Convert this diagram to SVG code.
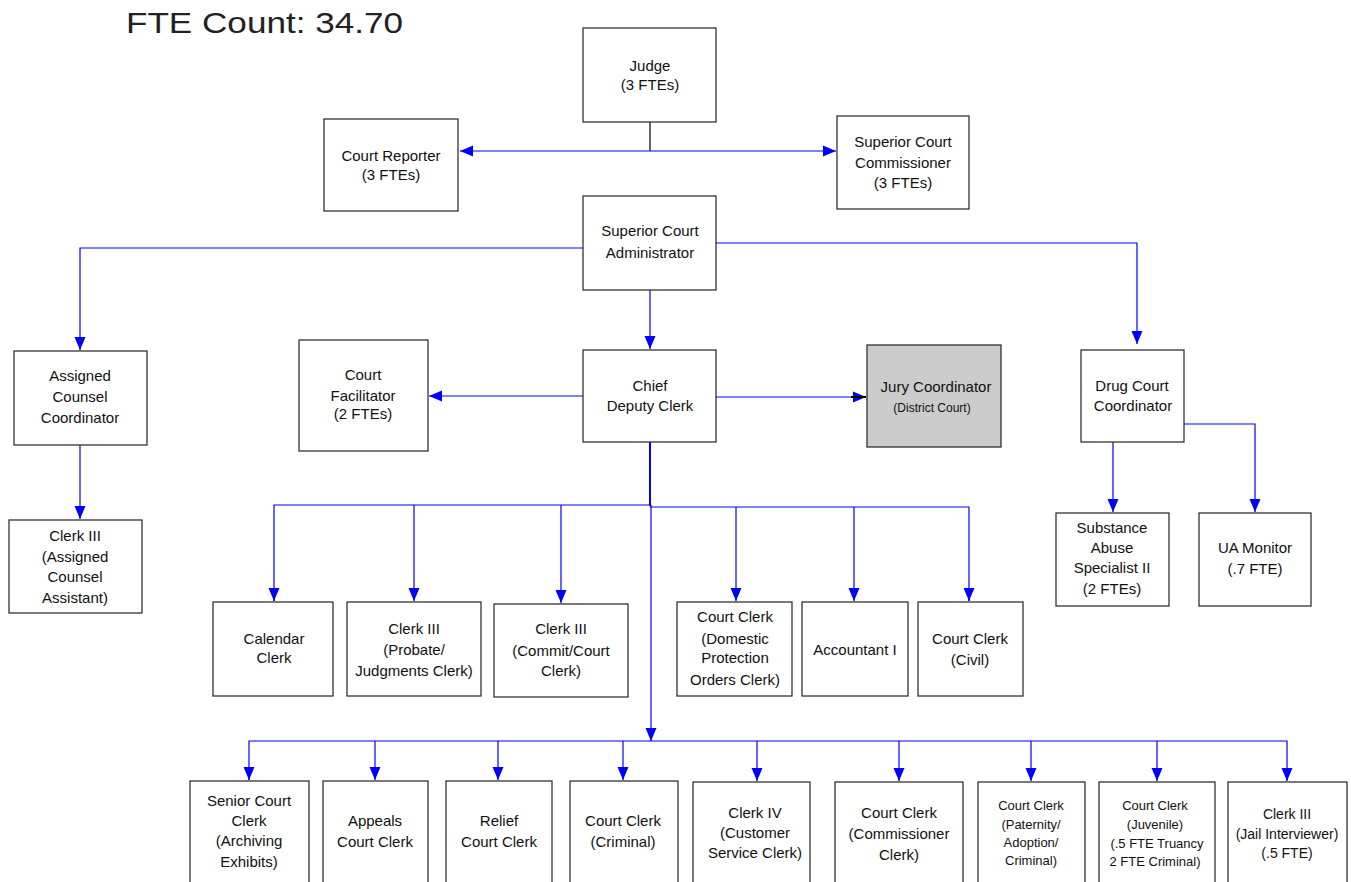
<svg xmlns="http://www.w3.org/2000/svg" width="1351" height="882" viewBox="0 0 1351 882">
<defs>
<style>
.box{fill:#fff;stroke:#222;stroke-width:1.2}
.gray{fill:#cccccc}
text{font-family:"Liberation Sans",Arial,sans-serif;font-size:15px;fill:#111;text-anchor:middle}
.sm{font-size:12px}
.s13{font-size:13px}
.s14{font-size:14px}
.c{fill:none;stroke:#0000ff;stroke-width:1.2}
.k{fill:none;stroke:#000;stroke-width:1.2}
</style>
<marker id="ah" markerUnits="userSpaceOnUse" markerWidth="14" markerHeight="12" refX="13" refY="6" orient="auto-start-reverse">
<path d="M0,0.5 L13,6 L0,11.5 z" fill="#0000ff"/>
</marker>
</defs>
<rect width="1351" height="882" fill="#fff"/>
<text x="126" y="33" style="font-size:30px;text-anchor:start;fill:#222" textLength="277" lengthAdjust="spacingAndGlyphs">FTE Count: 34.70</text>

<g id="connectors">
<line class="k" x1="650" y1="122" x2="650" y2="151"/>
<line class="c" x1="460" y1="151" x2="836" y2="151" marker-start="url(#ah)" marker-end="url(#ah)"/>
<polyline class="c" points="583,248 80,248 80,350" marker-end="url(#ah)"/>
<polyline class="c" points="716,243 1137,243 1137,344" marker-end="url(#ah)"/>
<line class="c" x1="650" y1="290" x2="650" y2="349" marker-end="url(#ah)"/>
<line class="c" x1="80" y1="445" x2="80" y2="519" marker-end="url(#ah)"/>
<line class="c" x1="583" y1="396" x2="429" y2="396" marker-end="url(#ah)"/>
<line class="c" x1="716" y1="397" x2="866" y2="397" marker-end="url(#ah)"/>
<line class="k" x1="851" y1="397" x2="866" y2="397" style="stroke-width:2"/>
<line class="c" x1="1113" y1="442" x2="1113" y2="512" marker-end="url(#ah)"/>
<polyline class="c" points="1184,424 1255,424 1255,512" marker-end="url(#ah)"/>
<line class="c" x1="650" y1="442" x2="650" y2="506" style="stroke-width:2"/>
<polyline class="c" points="274,601 274,505 650,505"/>
<polyline class="c" points="650,507 969,507 969,601"/>
<line class="c" x1="414" y1="505" x2="414" y2="601" marker-end="url(#ah)"/>
<line class="c" x1="561" y1="505" x2="561" y2="603" marker-end="url(#ah)"/>
<line class="c" x1="736" y1="507" x2="736" y2="601" marker-end="url(#ah)"/>
<line class="c" x1="854" y1="507" x2="854" y2="601" marker-end="url(#ah)"/>
<line class="c" x1="274" y1="590" x2="274" y2="601" marker-end="url(#ah)"/>
<line class="c" x1="969" y1="590" x2="969" y2="601" marker-end="url(#ah)"/>
<line class="c" x1="651" y1="505" x2="651" y2="741" marker-end="url(#ah)"/>
<polyline class="c" points="249,780 249,741 1287,741 1287,780"/>
<line class="c" x1="249" y1="770" x2="249" y2="780" marker-end="url(#ah)"/>
<line class="c" x1="1287" y1="770" x2="1287" y2="781" marker-end="url(#ah)"/>
<line class="c" x1="375" y1="741" x2="375" y2="780" marker-end="url(#ah)"/>
<line class="c" x1="498" y1="741" x2="498" y2="780" marker-end="url(#ah)"/>
<line class="c" x1="623" y1="741" x2="623" y2="780" marker-end="url(#ah)"/>
<line class="c" x1="757" y1="741" x2="757" y2="781" marker-end="url(#ah)"/>
<line class="c" x1="899" y1="741" x2="899" y2="781" marker-end="url(#ah)"/>
<line class="c" x1="1031" y1="741" x2="1031" y2="781" marker-end="url(#ah)"/>
<line class="c" x1="1157" y1="741" x2="1157" y2="781" marker-end="url(#ah)"/>
</g>

<g id="judge"><rect class="box" x="583" y="28" width="133" height="94"/><text x="650" y="71">Judge</text><text x="650" y="90">(3 FTEs)</text></g>
<g id="court-reporter"><rect class="box" x="324" y="119" width="134" height="92"/><text x="391" y="161">Court Reporter</text><text x="391" y="180">(3 FTEs)</text></g>
<g id="commissioner"><rect class="box" x="837" y="116" width="132" height="93"/><text x="903" y="147">Superior Court</text><text x="903" y="168">Commissioner</text><text x="903" y="188">(3 FTEs)</text></g>
<g id="administrator"><rect class="box" x="583" y="196" width="133" height="94"/><text x="650" y="236">Superior Court</text><text x="650" y="258">Administrator</text></g>
<g id="assigned-counsel"><rect class="box" x="14" y="351" width="133" height="94"/><text x="80" y="381">Assigned</text><text x="80" y="402">Counsel</text><text x="80" y="423">Coordinator</text></g>
<g id="clerk3-assigned"><rect class="box" x="9" y="520" width="133" height="93"/><text x="75" y="541">Clerk III</text><text x="75" y="562">(Assigned</text><text x="75" y="582">Counsel</text><text x="75" y="603">Assistant)</text></g>
<g id="facilitator"><rect class="box" x="299" y="340" width="129" height="111"/><text x="363" y="380">Court</text><text x="363" y="401">Facilitator</text><text x="363" y="419">(2 FTEs)</text></g>
<g id="chief-deputy"><rect class="box" x="583" y="350" width="133" height="92"/><text x="650" y="391">Chief</text><text x="650" y="411">Deputy Clerk</text></g>
<g id="jury"><rect class="box gray" x="867" y="345" width="134" height="102"/><text x="936" y="392">Jury Coordinator</text><text class="sm" x="932" y="412">(District Court)</text></g>
<g id="drug-court"><rect class="box" x="1081" y="350" width="103" height="92"/><text x="1132" y="391">Drug Court</text><text x="1133" y="411">Coordinator</text></g>
<g id="substance"><rect class="box" x="1056" y="513" width="113" height="93"/><text x="1112" y="533">Substance</text><text x="1112" y="553">Abuse</text><text x="1112" y="573">Specialist II</text><text x="1112" y="594">(2 FTEs)</text></g>
<g id="ua-monitor"><rect class="box" x="1199" y="513" width="112" height="93"/><text x="1255" y="553">UA Monitor</text><text x="1255" y="574">(.7 FTE)</text></g>

<g id="calendar"><rect class="box" x="213" y="602" width="120" height="94"/><text x="274" y="644">Calendar</text><text x="274" y="663">Clerk</text></g>
<g id="clerk3-probate"><rect class="box" x="347" y="602" width="134" height="94"/><text x="414" y="634">Clerk III</text><text x="414" y="655">(Probate/</text><text x="414" y="676">Judgments Clerk)</text></g>
<g id="clerk3-commit"><rect class="box" x="494" y="604" width="134" height="93"/><text x="561" y="634">Clerk III</text><text x="561" y="656">(Commit/Court</text><text x="561" y="676">Clerk)</text></g>
<g id="domestic"><rect class="box" x="677" y="602" width="115" height="94"/><text x="735" y="622">Court Clerk</text><text x="735" y="644">(Domestic</text><text x="735" y="663">Protection</text><text x="735" y="685">Orders Clerk)</text></g>
<g id="accountant"><rect class="box" x="802" y="602" width="106" height="94"/><text x="855" y="655">Accountant I</text></g>
<g id="civil"><rect class="box" x="918" y="602" width="105" height="94"/><text x="970" y="644">Court Clerk</text><text x="970" y="665">(Civil)</text></g>

<g id="senior"><rect class="box" x="190" y="781" width="119" height="110"/><text x="249" y="806">Senior Court</text><text x="249" y="826">Clerk</text><text x="249" y="846">(Archiving</text><text x="249" y="867">Exhibits)</text></g>
<g id="appeals"><rect class="box" x="323" y="781" width="105" height="110"/><text x="375" y="826">Appeals</text><text x="375" y="847">Court Clerk</text></g>
<g id="relief"><rect class="box" x="446" y="781" width="106" height="110"/><text x="499" y="826">Relief</text><text x="499" y="847">Court Clerk</text></g>
<g id="criminal"><rect class="box" x="570" y="781" width="108" height="110"/><text x="623" y="826">Court Clerk</text><text x="623" y="847">(Criminal)</text></g>
<g id="clerk4"><rect class="box" x="693" y="782" width="117" height="110"/><text x="755" y="818">Clerk IV</text><text x="755" y="838">(Customer</text><text x="755" y="858">Service Clerk)</text></g>
<g id="commissioner-clerk"><rect class="box" x="835" y="782" width="128" height="110"/><text x="899" y="818">Court Clerk</text><text x="899" y="839">(Commissioner</text><text x="899" y="860">Clerk)</text></g>
<g id="paternity"><rect class="box" x="978" y="782" width="107" height="110"/><text class="s13" x="1031" y="810">Court Clerk</text><text class="s13" x="1031" y="829">(Paternity/</text><text class="s13" x="1031" y="847">Adoption/</text><text class="s13" x="1031" y="865">Criminal)</text></g>
<g id="juvenile"><rect class="box" x="1099" y="782" width="116" height="110"/><text class="s13" x="1155" y="810">Court Clerk</text><text class="s13" x="1155" y="829">(Juvenile)</text><text class="s13" x="1157" y="848">(.5 FTE Truancy</text><text class="s13" x="1155" y="866">2 FTE Criminal)</text></g>
<g id="jail"><rect class="box" x="1228" y="782" width="119" height="110"/><text class="s14" x="1287" y="819">Clerk III</text><text class="s14" x="1287" y="839">(Jail Interviewer)</text><text class="s14" x="1287" y="858">(.5 FTE)</text></g>
</svg>
